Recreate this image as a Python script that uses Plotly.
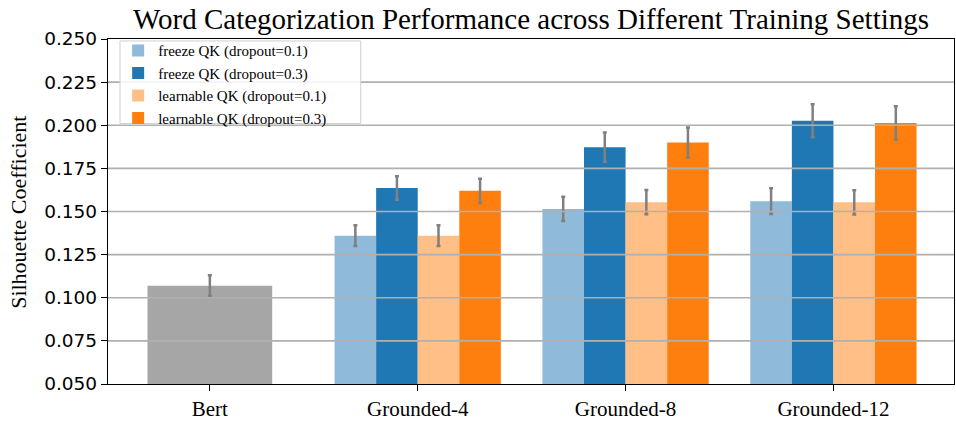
import plotly.graph_objects as go

# Group labels on the x axis
groups = ["Bert", "Grounded-4", "Grounded-8", "Grounded-12"]

# Baseline model
bert_mean = [0.107]
bert_err = [0.006]

# Grounded models, one list per training setting (Grounded-4, -8, -12)
series_names = [
    "freeze QK (dropout=0.1)",
    "freeze QK (dropout=0.3)",
    "learnable QK (dropout=0.1)",
    "learnable QK (dropout=0.3)",
]
freeze_01 = [0.136, 0.1515, 0.156]
freeze_03 = [0.1636, 0.1873, 0.2026]
learn_01 = [0.136, 0.1554, 0.1553]
learn_03 = [0.1620, 0.1900, 0.2013]

freeze_01_err = [0.006, 0.007, 0.0075]
freeze_03_err = [0.0068, 0.0085, 0.0096]
learn_01_err = [0.006, 0.007, 0.007]
learn_03_err = [0.007, 0.0087, 0.0097]

y_ticks = [0.05, 0.075, 0.1, 0.125, 0.15, 0.175, 0.2, 0.225, 0.25]

colors = ["#8fbad9", "#1f77b4", "#ffbf87", "#ff7f0e"]
bert_color = "#a6a6a6"
err_color = "#808080"
serif = "Liberation Serif"

fig = go.Figure()

err_style = dict(type="data", color=err_color, thickness=2.5, width=2)

fig.add_trace(go.Bar(
    x=[0], y=bert_mean, width=0.6,
    marker=dict(color=bert_color, line=dict(width=0)),
    error_y=dict(array=bert_err, **err_style),
    showlegend=False, name="Bert",
))

grounded_x = [1, 2, 3]
bar_w = 0.2
series = [freeze_01, freeze_03, learn_01, learn_03]
series_err = [freeze_01_err, freeze_03_err, learn_01_err, learn_03_err]
for k, (name, vals, errs, col) in enumerate(zip(series_names, series, series_err, colors)):
    fig.add_trace(go.Bar(
        x=grounded_x, y=vals, width=bar_w, offset=-0.4 + k * bar_w,
        marker=dict(color=col, line=dict(width=0)),
        error_y=dict(array=errs, **err_style),
        name=name,
    ))

# Horizontal grid drawn on top of the bars
for t in y_ticks[1:-1]:
    fig.add_shape(type="line", xref="paper", x0=0, x1=1, yref="y", y0=t, y1=t,
                  line=dict(color="#b0b0b0", width=1.6), layer="above")

# Legend frame
fig.add_shape(type="rect", xref="paper", yref="paper",
              x0=0.0142, x1=0.2987, y0=0.755, y1=0.9943,
              fillcolor="rgba(255,255,255,0.85)", line=dict(color="#d0d0d0", width=1),
              layer="above")

fig.update_layout(
    width=956, height=422,
    margin=dict(l=108, r=1, t=39, b=32),
    paper_bgcolor="white", plot_bgcolor="white",
    barmode="overlay",
    title=dict(text="Word Categorization Performance across Different Training Settings",
               font=dict(family=serif, size=29, color="black"),
               x=0.5555, xanchor="center", y=1 - 19 / 422, yanchor="middle"),
    legend=dict(x=0.012, y=1.014, xanchor="left", yanchor="top",
                bgcolor="rgba(0,0,0,0)", borderwidth=0,
                font=dict(family=serif, size=15, color="black"),
                tracegroupgap=0, itemwidth=30),
    annotations=[dict(text="Silhouette Coefficient", textangle=-90,
                      xref="paper", yref="paper", x=-0.106, y=0.497,
                      xanchor="center", yanchor="middle", showarrow=False,
                      font=dict(family=serif, size=22, color="black"))],
)

fig.update_xaxes(
    range=[-0.49, 3.58], tickvals=[0, 1, 2, 3], ticktext=groups,
    showgrid=False, zeroline=False,
    showline=True, mirror=True, linecolor="black", linewidth=1.3,
    ticks="outside", ticklen=6, tickwidth=1.3, tickcolor="black",
    tickfont=dict(family=serif, size=21, color="black"),
)
fig.update_yaxes(
    range=[0.05, 0.25], tickvals=y_ticks, tickformat=".3f",
    showgrid=False, zeroline=False,
    showline=True, mirror=True, linecolor="black", linewidth=1.3,
    ticks="outside", ticklen=6, tickwidth=1.3, tickcolor="black",
    tickfont=dict(family="DejaVu Sans", size=18.5, color="black"),
)

fig.write_html("out.html")
